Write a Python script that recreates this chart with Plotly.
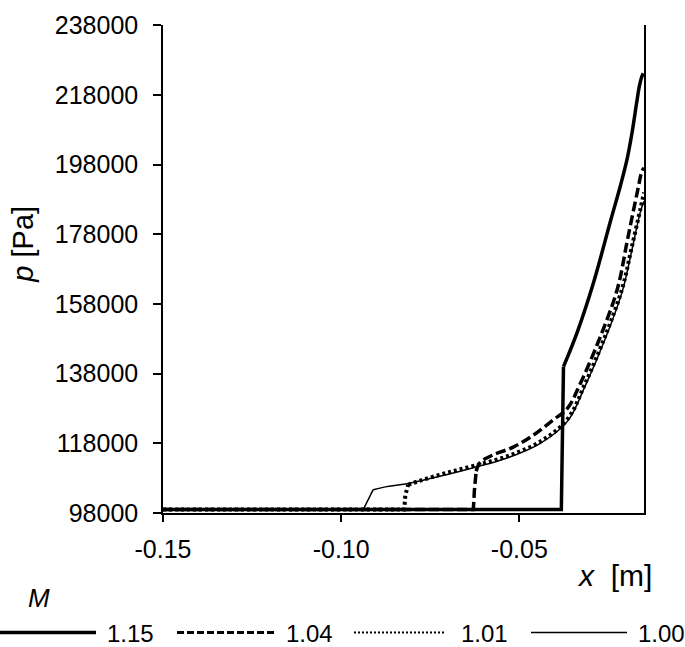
import plotly.graph_objects as go

# pressure along x for each Mach number
x_115 = [-0.150, -0.0382, -0.0376, -0.0337, -0.0292, -0.0244, -0.0216, -0.0197,
         -0.0183, -0.0171, -0.0163, -0.0157, -0.0152]
p_115 = [99000, 99000, 140000, 150000, 164000, 181800, 192000, 199800,
         207500, 215500, 220500, 223000, 224200]

x_104 = [-0.150, -0.0629, -0.0626, -0.0621, -0.0610, -0.0573, -0.0517, -0.0461,
         -0.0405, -0.0365, -0.0329, -0.0273, -0.0225, -0.0197, -0.0169, -0.0155, -0.0150]
p_104 = [99000, 99000, 104500, 110000, 112500, 114700, 116900, 120300,
         124700, 128000, 135100, 148500, 162200, 176100, 190000, 196300, 197000]

x_101 = [-0.150, -0.0823, -0.0820, -0.0812, -0.0778, -0.0708, -0.0629, -0.0534,
         -0.0441, -0.0365, -0.0315, -0.0258, -0.0211, -0.0185, -0.0160, -0.0150]
p_101 = [99000, 99000, 103000, 106100, 107300, 109400, 111500, 114300,
         118500, 124900, 135200, 149000, 162500, 174000, 185300, 190000]

x_100 = [-0.150, -0.0938, -0.0910, -0.0876, -0.0815, -0.0708, -0.0629, -0.0534,
         -0.0441, -0.0365, -0.0315, -0.0258, -0.0211, -0.0185, -0.0160, -0.0150]
p_100 = [99000, 99000, 104700, 105500, 106400, 108900, 111000, 113800,
         118000, 124300, 134500, 148200, 161600, 173000, 184500, 187500]

mach_labels = ['1.15', '1.04', '1.01', '1.00']
# index of the point where the shock jump ends and the smooth rise starts
jump_top = [2, 3, 3, 2]

y_ticks = [98000, 118000, 138000, 158000, 178000, 198000, 218000, 238000]
x_ticks = [-0.15, -0.10, -0.05]
x_ticktext = ['-0.15', '-0.10', '-0.05']

FONT = 'Liberation Sans, Arial, sans-serif'
W, H = 685, 647
ML, MR, MT, MB = 163, 41, 11, 134


def px_to_paper(px, py):
    # pixel position on the page -> paper coordinates
    return (px - ML) / (W - ML - MR), (H - MB - py) / (H - MT - MB)


styles = [
    dict(width=3.5, color='black', dash='solid'),
    dict(width=3.5, color='black', dash='10px,4px'),
    dict(width=4, color='black', dash='3px,3px'),
    dict(width=1.5, color='black', dash='solid'),
]
series = [(x_115, p_115), (x_104, p_104), (x_101, p_101), (x_100, p_100)]

fig = go.Figure()
for (xs, ps), st, name, j in zip(series, styles, mach_labels, jump_top):
    # flat part + jump drawn straight, the rise behind the jump smoothed
    fig.add_trace(go.Scatter(x=xs[:j + 1], y=ps[:j + 1], mode='lines', name=name,
                             line=st, showlegend=False))
    fig.add_trace(go.Scatter(x=xs[j:], y=ps[j:], mode='lines', name=name,
                             line=dict(st, shape='spline', smoothing=1),
                             showlegend=False))

fig.update_layout(
    width=W, height=H,
    margin=dict(l=ML, r=MR, t=MT, b=MB),
    paper_bgcolor='white', plot_bgcolor='white',
    font=dict(family=FONT, color='black', size=24),
    xaxis=dict(range=[-0.15, -0.015], tickvals=x_ticks, ticktext=x_ticktext,
               showgrid=False, zeroline=False, showline=True, linecolor='black',
               linewidth=1.5, ticks='outside', ticklen=7, tickwidth=1.5,
               tickcolor='black', tickfont=dict(size=25), ticklabelstandoff=6,
               ticklabeloverflow='allow'),
    yaxis=dict(range=[98000, 238060], tickvals=y_ticks, tickformat='d',
               showgrid=False, zeroline=False, showline=True, linecolor='black',
               linewidth=1.5, mirror=True, ticks='outside', ticklen=8, tickwidth=1.5,
               tickcolor='black', tickfont=dict(size=25), ticklabelstandoff=10,
               ticklabeloverflow='allow'),
)

# axis titles
ax, ay = px_to_paper(23, 237)
fig.add_annotation(x=ax, y=ay, xref='paper', yref='paper', text='<i>p</i> [Pa]',
                   showarrow=False, textangle=-90, font=dict(size=29),
                   xanchor='center', yanchor='middle')
ax, ay = px_to_paper(614, 577)
fig.add_annotation(x=ax, y=ay, xref='paper', yref='paper', text='<i>x</i>  [m]',
                   showarrow=False, font=dict(size=30),
                   xanchor='center', yanchor='middle')

# legend drawn by hand below the plot
ax, ay = px_to_paper(39, 600)
fig.add_annotation(x=ax, y=ay, xref='paper', yref='paper', text='<i>M</i>',
                   showarrow=False, font=dict(size=26),
                   xanchor='center', yanchor='middle')

leg_lines = [(0, 96), (177, 275), (354, 445), (531, 627)]
leg_text_x = [105, 284, 459, 636]
leg_styles = [
    dict(width=3.5, color='black', dash='solid'),
    dict(width=3, color='black', dash='7px,3px'),
    dict(width=2, color='black', dash='2px,2px'),
    dict(width=1.5, color='black', dash='solid'),
]
leg_y = 636
for (x0, x1), tx, st, lab in zip(leg_lines, leg_text_x, leg_styles, mach_labels):
    p0x, p0y = px_to_paper(x0, leg_y)
    p1x, _ = px_to_paper(x1, leg_y)
    fig.add_shape(type='line', xref='paper', yref='paper',
                  x0=p0x, x1=p1x, y0=p0y, y1=p0y, line=st)
    tpx, tpy = px_to_paper(tx, leg_y)
    fig.add_annotation(x=tpx, y=tpy, xref='paper', yref='paper', text=lab,
                       showarrow=False, font=dict(size=24), height=20,
                       xanchor='left', yanchor='middle', valign='middle')

# page margin off so the figure sits at the window's top-left corner
fig.write_html('out.html', config={'displayModeBar': False},
               post_script="document.body.style.margin='0';")
